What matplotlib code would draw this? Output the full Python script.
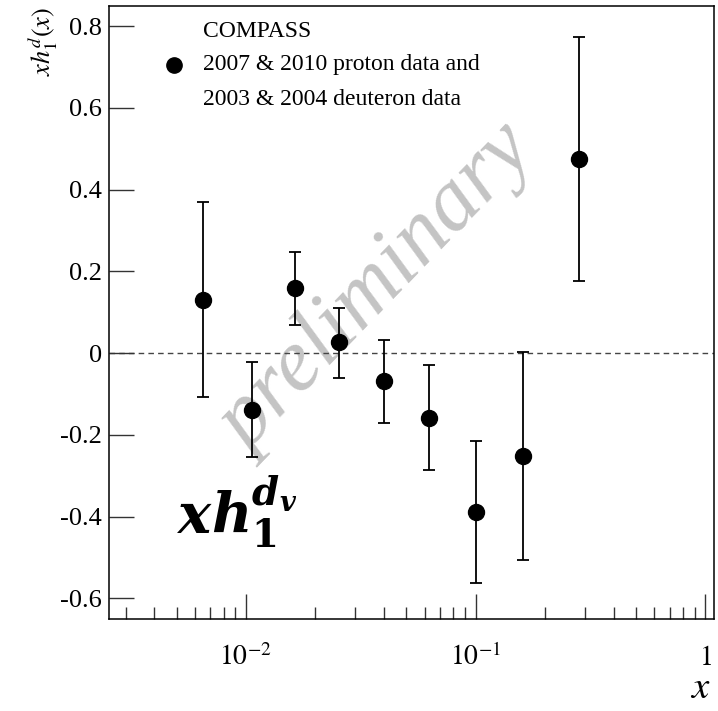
import numpy as np
import matplotlib; matplotlib.use("Agg"); import matplotlib.pyplot as plt
import matplotlib.transforms as mtransforms
from matplotlib.ticker import FixedLocator, LogLocator, NullFormatter

plt.rcParams["font.family"] = ["Liberation Serif", "DejaVu Serif"]
plt.rcParams["mathtext.fontset"] = "stix"

# COMPASS xh1^d(x) points
x_val = [0.00652, 0.01065, 0.01645, 0.0255, 0.0398, 0.0627, 0.100, 0.161, 0.283]
y_val = [0.130, -0.138, 0.159, 0.026, -0.069, -0.159, -0.388, -0.252, 0.474]
y_hi = [0.369, -0.022, 0.247, 0.110, 0.032, -0.029, -0.214, 0.003, 0.772]
y_lo = [-0.107, -0.253, 0.069, -0.061, -0.171, -0.287, -0.563, -0.507, 0.177]

y_ticks = [-0.6, -0.4, -0.2, 0, 0.2, 0.4, 0.6, 0.8]
y_labels = ["-0.6", "-0.4", "-0.2", "0", "0.2", "0.4", "0.6", "0.8"]
x_ticks = [1e-2, 1e-1, 1]
x_labels = [r"$10^{\mathsf{-}2}$", r"$10^{\mathsf{-}1}$", r"$1$"]

fig = plt.figure(figsize=(7.18, 7.11), dpi=100)
ax = fig.add_axes([0.1514, 0.129, 0.843, 0.8626])

yv = np.array(y_val)
err = [yv - np.array(y_lo), np.array(y_hi) - yv]
ax.errorbar(x_val, y_val, yerr=err, fmt="o", color="black", ms=11.5,
            elinewidth=1.3, capsize=4, capthick=1.3, zorder=3)
ax.axhline(0, ls=(0, (4, 3)), c="#444", lw=1, zorder=1)

ax.set_xscale("log")
ax.set_xlim(10 ** -2.597, 10 ** 0.038)
ax.set_ylim(-0.651, 0.849)

ax.yaxis.set_major_locator(FixedLocator(y_ticks))
ax.set_yticklabels(y_labels)
ax.xaxis.set_major_locator(FixedLocator(x_ticks))
ax.set_xticklabels([])
ax.xaxis.set_minor_locator(LogLocator(base=10, subs=np.arange(2, 10), numticks=20))
ax.xaxis.set_minor_formatter(NullFormatter())
ax.yaxis.set_minor_locator(FixedLocator([]))

# x tick labels on a common baseline
trans = mtransforms.blended_transform_factory(ax.transData, ax.transAxes)
for v, s in zip(x_ticks, x_labels):
    ax.text(v, -0.075, s, transform=trans, ha="center", va="baseline", fontsize=20)

ax.tick_params(axis="y", which="major", direction="in", length=18, width=1, left=True, right=False,
               labelsize=19, pad=5, color="#333")
ax.tick_params(axis="x", which="major", direction="in", length=18, width=1, top=False, color="#333")
ax.tick_params(axis="x", which="minor", direction="in", length=9, width=1, top=False, color="#333")
for s in ax.spines.values():
    s.set_linewidth(1.1)

# watermark
ax.text(0.445, 0.537, "preliminary", transform=ax.transAxes, rotation=46, fontsize=64,
        style="italic", color="#c4c4c4", ha="center", va="center", zorder=0)

# legend-ish header
ax.text(0.156, 0.9576, "COMPASS", transform=ax.transAxes, fontsize=17, va="center")
ax.plot([0.108], [0.9038], "o", color="black", ms=11, transform=ax.transAxes, clip_on=False)
ax.text(0.156, 0.9038, "2007 & 2010 proton data and", transform=ax.transAxes, fontsize=17, va="center")
ax.text(0.156, 0.8467, "2003 & 2004 deuteron data", transform=ax.transAxes, fontsize=17, va="center")

# big label
ax.text(0.113, 0.14, r"$\boldsymbol{xh}_{\mathbf{1}}^{\boldsymbol{d}_{\boldsymbol{v}}}$",
        transform=ax.transAxes, fontsize=40, va="baseline", ha="left", math_fontfamily="dejavuserif")

fig.text(0.035, 0.99, r"$xh_{\mathit{1}}^{d}(x)$", rotation=90, ha="left", va="top", fontsize=19)
fig.text(0.99, 0.006, r"$x$", ha="right", va="bottom", fontsize=28)

fig.savefig("out.png", dpi=100)
